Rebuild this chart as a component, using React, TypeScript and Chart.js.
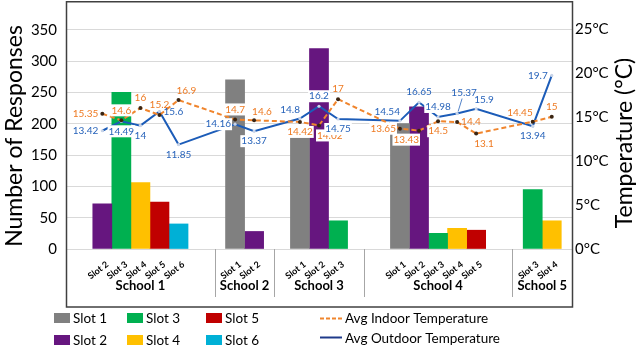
import React, { useEffect, useRef } from "react";
import { Chart, registerables } from "chart.js";

Chart.register(...registerables);

// ---------------- data ----------------
const schools = ["School 1", "School 2", "School 3", "School 4", "School 5"];
const schoolSlots = [
  [2, 3, 4, 5, 6],
  [1, 2],
  [1, 2, 3],
  [1, 2, 3, 4, 5],
  [3, 4],
];
const responses = [
  [72, 250, 106, 75, 40],
  [270, 28],
  [178, 320, 45],
  [200, 227, 25, 33, 30],
  [95, 45],
];
const indoorTemp = [
  [15.35, 14.6, 16, 15.2, 16.9],
  [14.7, 14.6],
  [14.42, 14.02, 17],
  [13.65, 13.43, 14.5, 14.4, 13.1],
  [14.45, 15],
];
const outdoorTemp = [
  [13.42, 14.49, 14, 15.6, 11.85],
  [14.16, 13.37],
  [14.8, 16.2, 14.75],
  [14.54, 16.65, 14.98, 15.37, 15.9],
  [13.94, 19.7],
];
const slotNames = ["Slot 1", "Slot 2", "Slot 3", "Slot 4", "Slot 5", "Slot 6"];
const responseTicks = [0, 50, 100, 150, 200, 250, 300, 350];
const tempTicks = [0, 5, 10, 15, 20, 25];
const indoorName = "Avg Indoor Temperature";
const outdoorName = "Avg Outdoor Temperature";

// ---------------- label placement (style) ----------------
const indoorLabelPos = [
  ["l", "a", "a", "a", "ar"],
  ["a", "ar"],
  ["b", "br", "a"],
  ["l", "bl", "b", "r", "br"],
  ["al", "a"],
];
const outdoorLabelPos = [
  ["l", "b", "b", "r", "b"],
  ["l", "b"],
  ["al", "a", "b"],
  ["al", "a", "a", "aa", "ar"],
  ["b", "l"],
];

// ---------------- styles ----------------
const slotColors = ["#808080", "#66167F", "#00B050", "#FFC000", "#C00000", "#00B0D6"];
const indoorColor = "#F0852D";
const indoorLabelColor = "#EE7A22";
const outdoorColor = "#1C5CB8";
const outdoorLabelColor = "#2763BA";
const FONT = "Lato, 'Open Sans', sans-serif";
const BAR_STEP = 0.64; // bar spacing inside a school group, in slot units

// ---------------- derived layout ----------------
type Pt = { x: number; slot: number; resp: number; indoor: number; outdoor: number; inPos: string; outPos: string };
const points: Pt[] = [];
const groups: { start: number; end: number; center: number; name: string }[] = [];
let cursor = 0;
schoolSlots.forEach((slots, g) => {
  const n = slots.length;
  const center = cursor + n / 2;
  groups.push({ start: cursor, end: cursor + n, center, name: schools[g] });
  slots.forEach((slot, j) => {
    points.push({
      x: center + (j - (n - 1) / 2) * BAR_STEP,
      slot,
      resp: responses[g][j],
      indoor: indoorTemp[g][j],
      outdoor: outdoorTemp[g][j],
      inPos: indoorLabelPos[g][j],
      outPos: outdoorLabelPos[g][j],
    });
  });
  cursor += n;
});
const totalSlots = cursor;
const tickLabels = points.map((p) => slotNames[p.slot - 1]);

const barDatasets = slotNames.map((name, s) => ({
  type: "bar" as const,
  label: name,
  data: points.filter((p) => p.slot === s + 1).map((p) => ({ x: p.x, y: p.resp })),
  backgroundColor: slotColors[s],
  borderWidth: 0,
  grouped: false,
  barPercentage: 1,
  categoryPercentage: 1,
  yAxisID: "y",
  order: 2,
}));

const indoorDataset = {
  type: "line" as const,
  label: indoorName,
  data: points.map((p) => ({ x: p.x, y: p.indoor })),
  borderColor: indoorColor,
  borderWidth: 2,
  borderDash: [5, 3],
  pointRadius: 2,
  pointBackgroundColor: "#3B2512",
  pointBorderWidth: 0,
  tension: 0,
  yAxisID: "y1",
  order: 0,
};
const outdoorDataset = {
  type: "line" as const,
  label: outdoorName,
  data: points.map((p) => ({ x: p.x, y: p.outdoor })),
  borderColor: outdoorColor,
  borderWidth: 2,
  pointRadius: 1.6,
  pointBackgroundColor: "#C8D4E8",
  pointBorderWidth: 0,
  tension: 0,
  yAxisID: "y1",
  order: 1,
};

const noPad = (s: any) => {
  s.paddingTop = 0;
  s.paddingBottom = 0;
  s.paddingLeft = 0;
  s.paddingRight = 0;
};

// ---------------- plugins ----------------
const decorPlugin = {
  id: "decor",
  afterDatasetsDraw(chart: any) {
    const ctx = chart.ctx as CanvasRenderingContext2D;
    const bars: { l: number; r: number; t: number; b: number }[] = [];
    chart.data.datasets.forEach((ds: any, i: number) => {
      if (ds.type !== "bar") return;
      chart.getDatasetMeta(i).data.forEach((el: any) => {
        bars.push({ l: el.x - el.width / 2, r: el.x + el.width / 2, t: Math.min(el.y, el.base), b: Math.max(el.y, el.base) });
      });
    });
    const lines = [
      { idx: chart.data.datasets.indexOf(indoorDataset), key: "inPos", color: indoorLabelColor },
      { idx: chart.data.datasets.indexOf(outdoorDataset), key: "outPos", color: outdoorLabelColor },
    ];
    ctx.save();
    ctx.font = `10px ${FONT}`;
    ctx.textAlign = "center";
    ctx.textBaseline = "middle";
    lines.forEach((ln) => {
      const meta = chart.getDatasetMeta(ln.idx);
      const ds = chart.data.datasets[ln.idx];
      meta.data.forEach((el: any, k: number) => {
        const text = String(ds.data[k].y);
        const tw = ctx.measureText(text).width;
        const pos = (points[k] as any)[ln.key];
        const x = el.x;
        const y = el.y;
        let cx = x;
        let cy = y;
        if (pos === "a") cy = y - 10;
        else if (pos === "b") cy = y + 10;
        else if (pos === "l") cx = x - 4 - tw / 2;
        else if (pos === "r") cx = x + 4 + tw / 2;
        else if (pos === "al") { cx = x - tw / 2; cy = y - 9; }
        else if (pos === "ar") { cx = x + tw / 2 - 2; cy = y - 9; }
        else if (pos === "bl") { cx = x - tw / 2; cy = y + 9; }
        else if (pos === "br") { cx = x + tw / 2 - 2; cy = y + 10; }
        else if (pos === "aa") { cx = x + 7; cy = y - 21; }
        const box = { l: cx - tw / 2 - 1, r: cx + tw / 2 + 1, t: cy - 6, b: cy + 6 };
        const hit = bars.some((b) => box.l < b.r && box.r > b.l && box.t < b.b && box.b > b.t);
        if (pos === "aa") {
          ctx.strokeStyle = ln.color;
          ctx.lineWidth = 0.8;
          ctx.beginPath();
          ctx.moveTo(x + 1, y - 2);
          ctx.lineTo(cx - 2, cy + 6);
          ctx.stroke();
        }
        if (hit) {
          ctx.fillStyle = "#ffffff";
          ctx.fillRect(box.l, box.t, box.r - box.l, box.b - box.t);
        }
        ctx.fillStyle = ln.color;
        ctx.fillText(text, cx, cy);
      });
    });
    ctx.restore();
  },
  afterDraw(chart: any) {
    const ctx = chart.ctx as CanvasRenderingContext2D;
    const area = chart.chartArea;
    const xs = chart.scales.x;
    const frameBottom = 307;
    ctx.save();
    // group separators + school names
    ctx.strokeStyle = "#A6A6A6";
    ctx.lineWidth = 1;
    groups.forEach((g, i) => {
      if (i > 0) {
        const px = Math.round(xs.getPixelForValue(g.start)) + 0.5;
        ctx.beginPath();
        ctx.moveTo(px, area.bottom);
        ctx.lineTo(px, 297);
        ctx.stroke();
      }
    });
    ctx.fillStyle = "#000";
    ctx.font = `bold 13px ${FONT}`;
    ctx.textAlign = "center";
    ctx.textBaseline = "middle";
    groups.forEach((g) => {
      ctx.fillText(g.name, xs.getPixelForValue(g.center), 286);
    });
    // plot frame
    ctx.strokeStyle = "#404040";
    ctx.lineWidth = 1.5;
    ctx.strokeRect(area.left + 0.5, 1.75, area.right - area.left, frameBottom - 1.75);
    // axis titles
    ctx.font = `23px ${FONT}`;
    ctx.fillStyle = "#000";
    ctx.save();
    ctx.translate(15, 136);
    ctx.rotate(-Math.PI / 2);
    ctx.fillText("Number of Responses", 0, 0);
    ctx.restore();
    ctx.save();
    ctx.translate(625, 143);
    ctx.rotate(-Math.PI / 2);
    ctx.fillText("Temperature (°C)", 0, 0);
    ctx.restore();
    // legend
    ctx.font = `13.5px ${FONT}`;
    ctx.textAlign = "left";
    const colX = [54, 127, 206];
    const rowY = [318, 340];
    slotNames.forEach((name, s) => {
      const c = Math.floor(s / 2);
      const r = s % 2;
      ctx.fillStyle = slotColors[s];
      ctx.fillRect(colX[c], rowY[r] - 5, 16, 10);
      ctx.fillStyle = "#000";
      ctx.fillText(name, colX[c] + 19, rowY[r] + 1);
    });
    const lx = 320;
    ctx.lineWidth = 2;
    ctx.strokeStyle = indoorColor;
    ctx.setLineDash([4, 2]);
    ctx.beginPath();
    ctx.moveTo(lx, 318.5);
    ctx.lineTo(lx + 22, 318.5);
    ctx.stroke();
    ctx.setLineDash([]);
    ctx.strokeStyle = "#1F3A8A";
    ctx.beginPath();
    ctx.moveTo(lx, 337.5);
    ctx.lineTo(lx + 22, 337.5);
    ctx.stroke();
    ctx.fillStyle = "#000";
    ctx.fillText(indoorName, lx + 25, 319);
    ctx.fillText(outdoorName, lx + 25, 339);
    ctx.restore();
  },
};

export default function App() {
  const ref = useRef<HTMLCanvasElement>(null);
  useEffect(() => {
    if (!ref.current) return;
    Chart.defaults.font.family = FONT;
    Chart.defaults.color = "#000";
    const chart = new Chart(ref.current, {
      type: "bar",
      data: { datasets: [indoorDataset, outdoorDataset, ...barDatasets] as any },
      options: {
        responsive: false,
        animation: false,
        devicePixelRatio: 1,
        layout: { padding: { top: 2, left: 0, right: 0, bottom: 0 } },
        plugins: { legend: { display: false }, tooltip: { enabled: false } },
        scales: {
          x: {
            type: "linear",
            min: 0,
            max: totalSlots,
            offset: false,
            grid: { display: false },
            border: { display: false },
            afterBuildTicks: (axis: any) => {
              axis.ticks = points.map((p) => ({ value: p.x }));
            },
            afterFit: (s: any) => {
              s.height = 98;
              noPad(s);
            },
            ticks: {
              autoSkip: false,
              minRotation: 37,
              maxRotation: 37,
              padding: 2,
              labelOffset: 5,
              color: "#000",
              font: { size: 9, weight: "bold" },
              callback: (_v: any, i: number) => tickLabels[i],
            },
          },
          y: {
            type: "linear",
            position: "left",
            min: 0,
            max: 391,
            afterBuildTicks: (axis: any) => {
              axis.ticks = responseTicks.map((v) => ({ value: v }));
            },
            afterFit: (s: any) => {
              s.width = 66;
              noPad(s);
            },
            grid: { color: "#D9D9D9", lineWidth: 1, drawTicks: false },
            border: { display: false },
            ticks: { padding: 9, color: "#000", font: { size: 15 } },
          },
          y1: {
            type: "linear",
            position: "right",
            min: 0,
            max: 27.8,
            afterBuildTicks: (axis: any) => {
              axis.ticks = tempTicks.map((v) => ({ value: v }));
            },
            afterFit: (s: any) => {
              s.width = 68;
              noPad(s);
            },
            grid: { display: false, drawTicks: false },
            border: { display: false },
            ticks: { padding: 3, color: "#000", font: { size: 15 }, callback: (v: any) => `${v}°C` },
          },
        },
      } as any,
      plugins: [decorPlugin],
    });
    return () => chart.destroy();
  }, []);
  return (
    <div style={{ position: "fixed", left: 0, top: 0, width: 640, height: 347, background: "#fff" }}>
      <canvas ref={ref} width={640} height={347} style={{ display: "block", width: 640, height: 347 }} />
    </div>
  );
}
